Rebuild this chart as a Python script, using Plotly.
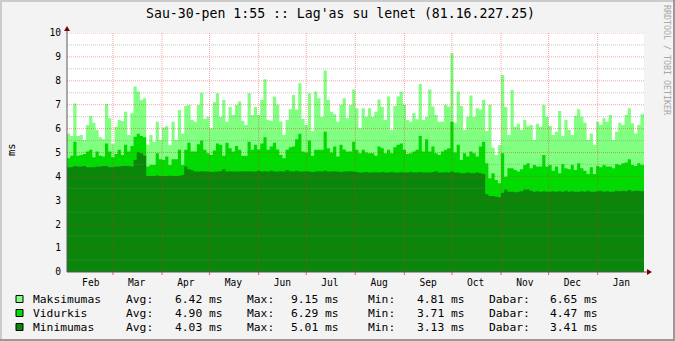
import pandas as pd
import plotly.graph_objects as go

# ---------------- data ----------------
title = "Sau-30-pen 1:55 :: Lag'as su lenet (81.16.227.25)"
start = "2008-02-01"
end = "2009-01-30 06:00"
step = "2D"

max_ms = [
    5.80, 5.69, 7.05, 5.69, 5.73, 5.52, 6.15, 6.53, 6.25, 5.94, 5.64, 5.55, 7.03, 6.43, 5.36,
    6.08, 6.36, 6.32, 6.71, 5.73, 6.64, 7.76, 7.55, 7.20, 7.27, 5.32, 5.73, 5.45, 6.29, 5.52,
    6.05, 6.11, 5.30, 6.29, 5.52, 6.78, 5.80, 6.95, 6.99, 6.36, 6.29, 6.99, 7.50, 6.40, 6.50,
    6.01, 7.10, 7.48, 6.50, 7.20, 6.29, 6.90, 6.57, 6.99, 7.13, 6.33, 6.15, 7.48, 6.57, 6.90, 6.57,
    7.20, 8.06, 6.36, 6.33, 7.34, 7.00, 6.30, 5.73, 6.36, 6.81, 7.41, 6.80, 7.90, 6.40, 6.15,
    7.48, 5.90, 7.55, 7.27, 6.50, 8.43, 7.20, 6.71, 6.60, 6.29, 7.00, 7.27, 6.43, 6.99, 7.64,
    6.85, 6.01, 6.85, 6.50, 6.85, 6.50, 6.70, 7.22, 6.90, 6.36, 7.34, 5.94, 6.95, 7.34, 7.55,
    7.00, 6.36, 6.29, 6.64, 6.39, 7.87, 6.36, 6.50, 7.64, 6.92, 6.57, 6.29, 6.30, 7.00, 6.92, 9.15,
    6.25, 7.55, 6.95, 5.94, 6.50, 7.38, 6.50, 6.85, 6.80, 7.20, 5.90, 7.00, 5.20, 4.90, 5.30,
    8.24, 6.90, 5.73, 7.62, 6.08, 6.20, 5.94, 6.36, 6.10, 6.15, 5.52, 6.20, 6.08, 6.99, 6.50,
    6.11, 5.73, 5.87, 6.74, 5.69, 6.36, 5.94, 5.73, 6.53, 6.81, 6.50, 6.25, 5.52, 5.80, 5.32,
    6.29, 6.15, 6.43, 6.29, 6.57, 5.52, 5.87, 6.25, 6.15, 6.57, 6.85, 6.22, 5.80, 6.15, 6.60, 6.65,
]
avg_ms = [
    4.76, 4.86, 5.45, 4.86, 4.90, 4.94, 5.04, 5.11, 4.80, 5.04, 4.86, 4.83, 5.38, 5.04, 4.80,
    4.94, 5.11, 4.90, 5.32, 5.04, 5.27, 5.66, 5.78, 5.69, 5.64, 4.41, 4.48, 4.48, 4.97, 4.72,
    4.69, 4.83, 4.48, 4.72, 4.72, 5.11, 4.48, 5.11, 5.41, 5.04, 5.04, 5.34, 5.50, 5.11, 4.97,
    4.90, 5.08, 5.38, 5.32, 4.86, 5.41, 5.18, 5.04, 5.27, 5.11, 4.86, 4.86, 5.45, 5.11, 5.32, 5.13,
    5.38, 5.64, 5.11, 5.25, 5.41, 5.13, 4.90, 4.76, 5.11, 5.22, 5.25, 5.55, 5.78, 5.04, 5.00,
    5.50, 4.86, 5.11, 5.11, 5.11, 5.87, 5.18, 5.00, 5.25, 4.83, 5.32, 5.13, 5.04, 5.04, 5.45,
    5.11, 4.97, 5.11, 5.00, 4.97, 4.97, 4.86, 5.25, 5.18, 4.97, 5.11, 4.97, 5.22, 5.32, 5.38,
    5.11, 4.94, 4.97, 5.04, 5.11, 5.69, 5.04, 5.55, 5.04, 5.25, 4.97, 4.90, 5.04, 5.11, 5.18, 6.29,
    5.00, 5.32, 4.69, 4.97, 4.83, 5.04, 4.97, 4.83, 5.25, 5.45, 4.55, 3.92, 4.13, 3.85, 3.71,
    4.97, 3.99, 4.34, 4.34, 4.27, 4.20, 4.30, 4.48, 4.55, 4.34, 4.48, 4.41, 4.41, 4.90, 4.41,
    4.48, 4.24, 4.41, 4.13, 4.52, 4.34, 4.30, 4.48, 4.27, 4.55, 4.34, 4.24, 4.10, 4.38, 4.10,
    4.44, 4.38, 4.48, 4.41, 4.41, 4.34, 4.52, 4.48, 4.55, 4.58, 4.72, 4.48, 4.44, 4.55, 4.48, 4.47,
]
min_ms = [
    4.38, 4.38, 4.44, 4.41, 4.41, 4.44, 4.38, 4.38, 4.38, 4.41, 4.41, 4.44, 4.44, 4.38, 4.38,
    4.41, 4.41, 4.44, 4.44, 4.44, 4.41, 4.69, 5.01, 4.97, 4.86, 4.02, 4.02, 4.02, 4.04, 4.02,
    4.02, 4.02, 4.03, 4.02, 4.02, 4.03, 4.06, 4.41, 4.30, 4.27, 4.20, 4.20, 4.22, 4.20, 4.20,
    4.18, 4.20, 4.20, 4.22, 4.30, 4.20, 4.22, 4.20, 4.20, 4.20, 4.22, 4.20, 4.22, 4.20, 4.20, 4.24,
    4.20, 4.22, 4.20, 4.24, 4.20, 4.20, 4.22, 4.20, 4.27, 4.22, 4.20, 4.24, 4.20, 4.20, 4.22,
    4.20, 4.18, 4.20, 4.22, 4.20, 4.24, 4.20, 4.20, 4.22, 4.20, 4.18, 4.20, 4.20, 4.22, 4.20,
    4.18, 4.16, 4.16, 4.18, 4.16, 4.16, 4.17, 4.16, 4.18, 4.16, 4.16, 4.18, 4.16, 4.16, 4.17,
    4.16, 4.16, 4.18, 4.16, 4.16, 4.18, 4.16, 4.16, 4.16, 4.18, 4.22, 4.16, 4.16, 4.17, 4.16, 4.20,
    4.16, 4.16, 4.13, 4.13, 4.16, 4.13, 4.13, 4.16, 4.13, 4.10, 3.25, 3.18, 3.18, 3.15, 3.13,
    3.32, 3.45, 3.36, 3.36, 3.34, 3.36, 3.38, 3.45, 3.45, 3.40, 3.36, 3.38, 3.36, 3.38, 3.36,
    3.36, 3.38, 3.36, 3.38, 3.36, 3.40, 3.36, 3.38, 3.36, 3.36, 3.38, 3.36, 3.40, 3.36, 3.36,
    3.38, 3.40, 3.36, 3.38, 3.36, 3.36, 3.40, 3.38, 3.40, 3.38, 3.43, 3.38, 3.40, 3.40, 3.38, 3.41,
]

series_names = ["Maksimumas", "Vidurkis", "Minimumas"]
stat_avg = [6.42, 4.90, 4.03]
stat_max = [9.15, 6.29, 5.01]
stat_min = [4.81, 3.71, 3.13]
stat_now = [6.65, 4.47, 3.41]
month_labels = ["Feb", "Mar", "Apr", "May", "Jun", "Jul", "Aug", "Sep", "Oct", "Nov", "Dec", "Jan"]
y_ticks = [0, 1, 2, 3, 4, 5, 6, 7, 8, 9, 10]
y_minor = [0.5, 1.5, 2.5, 3.5, 4.5, 5.5, 6.5, 7.5, 8.5, 9.5]

# ---------------- style ----------------
colors = ["#80FF80", "#00DC00", "#0A860A"]
MONO = "DejaVu Sans Mono"
W, H = 675, 341
L, R, T, B = 67, 644, 33, 272
MGRID = "rgba(235,40,40,0.42)"
GRID = "rgba(130,130,130,0.45)"


def px(x):
    return (x - L) / (R - L)


def py(y):
    return (B - y) / (B - T)


dates = pd.date_range(start, periods=len(max_ms), freq=step)
x_all = list(dates) + [pd.Timestamp(end)]
month_starts = pd.date_range(start, periods=12, freq="MS")
month_mids = month_starts + pd.Timedelta(days=15)

fig = go.Figure()
for vals, col in zip([max_ms, avg_ms, min_ms], colors):
    fig.add_trace(go.Scatter(
        x=x_all, y=list(vals) + [vals[-1]], mode="lines",
        line=dict(width=0, shape="hv", color=col),
        fill="tozeroy", fillcolor=col, hoverinfo="skip", showlegend=False,
    ))

shapes = []
# horizontal grid
for v in y_minor:
    shapes.append(dict(type="line", xref="paper", yref="y", x0=0, x1=1, y0=v, y1=v,
                       line=dict(color=GRID, width=1, dash="1px,1px"), layer="above"))
for v in y_ticks[1:]:
    shapes.append(dict(type="line", xref="paper", yref="y", x0=0, x1=1, y0=v, y1=v,
                       line=dict(color=MGRID, width=1, dash="1px,1px"), layer="above"))
# vertical month grid
for m in month_starts[1:]:
    shapes.append(dict(type="line", xref="x", yref="paper", x0=m, x1=m, y0=0, y1=1,
                       line=dict(color=MGRID, width=1, dash="1px,1px"), layer="above"))
    shapes.append(dict(type="line", xref="x", yref="paper", x0=m, x1=m, y0=py(272), y1=py(275),
                       line=dict(color="rgba(220,60,60,0.8)", width=1), layer="above"))
# axes
AX = "#5a5a5a"
shapes.append(dict(type="line", xref="paper", yref="paper", x0=0, x1=0, y0=0, y1=py(30),
                   line=dict(color=AX, width=1), layer="above"))
shapes.append(dict(type="line", xref="paper", yref="paper", x0=0, x1=px(648), y0=0, y1=0,
                   line=dict(color=AX, width=1), layer="above"))
# arrows
ARW = "#7F0000"
shapes.append(dict(type="path", xref="paper", yref="paper",
                   path=f"M {px(67)} {py(26)} L {px(64)} {py(31)} L {px(70)} {py(31)} Z",
                   fillcolor=ARW, line=dict(width=0), layer="above"))
shapes.append(dict(type="path", xref="paper", yref="paper",
                   path=f"M {px(652)} {py(272)} L {px(647)} {py(269)} L {px(647)} {py(275)} Z",
                   fillcolor=ARW, line=dict(width=0), layer="above"))
# frame
shapes.append(dict(type="rect", xref="paper", yref="paper", x0=px(0), x1=px(2), y0=py(0), y1=py(341),
                   fillcolor="#CBCBCB", line=dict(width=0), layer="above"))
shapes.append(dict(type="rect", xref="paper", yref="paper", x0=px(0), x1=px(675), y0=py(0), y1=py(2),
                   fillcolor="#CBCBCB", line=dict(width=0), layer="above"))
shapes.append(dict(type="rect", xref="paper", yref="paper", x0=px(0), x1=px(675), y0=py(339), y1=py(341),
                   fillcolor="#999999", line=dict(width=0), layer="above"))
shapes.append(dict(type="rect", xref="paper", yref="paper", x0=px(673), x1=px(675), y0=py(0), y1=py(341),
                   fillcolor="#999999", line=dict(width=0), layer="above"))

annotations = []
annotations.append(dict(text=title, x=px(340), y=py(14), xref="paper", yref="paper",
                        showarrow=False, xanchor="center", yanchor="middle",
                        font=dict(family=MONO, size=13.2, color="black")))
annotations.append(dict(text="ms", x=px(11), y=py(150), xref="paper", yref="paper",
                        showarrow=False, textangle=-90, xanchor="center", yanchor="middle",
                        font=dict(family=MONO, size=10.5, color="black")))
annotations.append(dict(text="RRDTOOL / TOBI OETIKER", x=px(667), y=py(60), xref="paper", yref="paper",
                        showarrow=False, textangle=90, xanchor="center", yanchor="middle",
                        font=dict(family=MONO, size=8.3, color="#A8A8A8")))

col_x = [124, 172.7, 245, 289.3, 365.7, 415, 486.7, 548.3]
for i, name in enumerate(series_names):
    yc = 299 + 14 * i
    shapes.append(dict(type="rect", xref="paper", yref="paper",
                       x0=px(16), x1=px(23), y0=py(yc - 3.5), y1=py(yc + 3.5),
                       fillcolor=colors[i], line=dict(color="black", width=1), layer="above"))
    texts = [name, "Avg:", f"{stat_avg[i]:.2f} ms", "Max:", f"{stat_max[i]:.2f} ms",
             "Min:", f"{stat_min[i]:.2f} ms", "Dabar:", f"{stat_now[i]:.2f} ms"]
    xs = [31] + col_x
    for t, xx in zip(texts, xs):
        annotations.append(dict(text=t, x=px(xx), y=py(yc), xref="paper", yref="paper",
                                showarrow=False, xanchor="left", yanchor="middle",
                                font=dict(family=MONO, size=11.3, color="black")))

fig.update_layout(
    width=W, height=H,
    margin=dict(l=L, r=W - R, t=T, b=H - B, pad=0),
    paper_bgcolor="#F3F3F3", plot_bgcolor="#FFFFFF",
    showlegend=False,
    xaxis=dict(type="date", range=[start, end], tickmode="array", tickvals=month_mids,
               ticktext=month_labels, ticks="", showgrid=False, zeroline=False, showline=False,
               tickfont=dict(family=MONO, size=9.6, color="black"), ticklabelstandoff=3,
               fixedrange=True),
    yaxis=dict(range=[0, 10], tickmode="array", tickvals=y_ticks, ticks="", showgrid=False,
               zeroline=False, showline=False,
               tickfont=dict(family=MONO, size=9.6, color="black"), ticklabelstandoff=5,
               fixedrange=True),
    shapes=shapes, annotations=annotations,
)

fig.write_html("out.html")
